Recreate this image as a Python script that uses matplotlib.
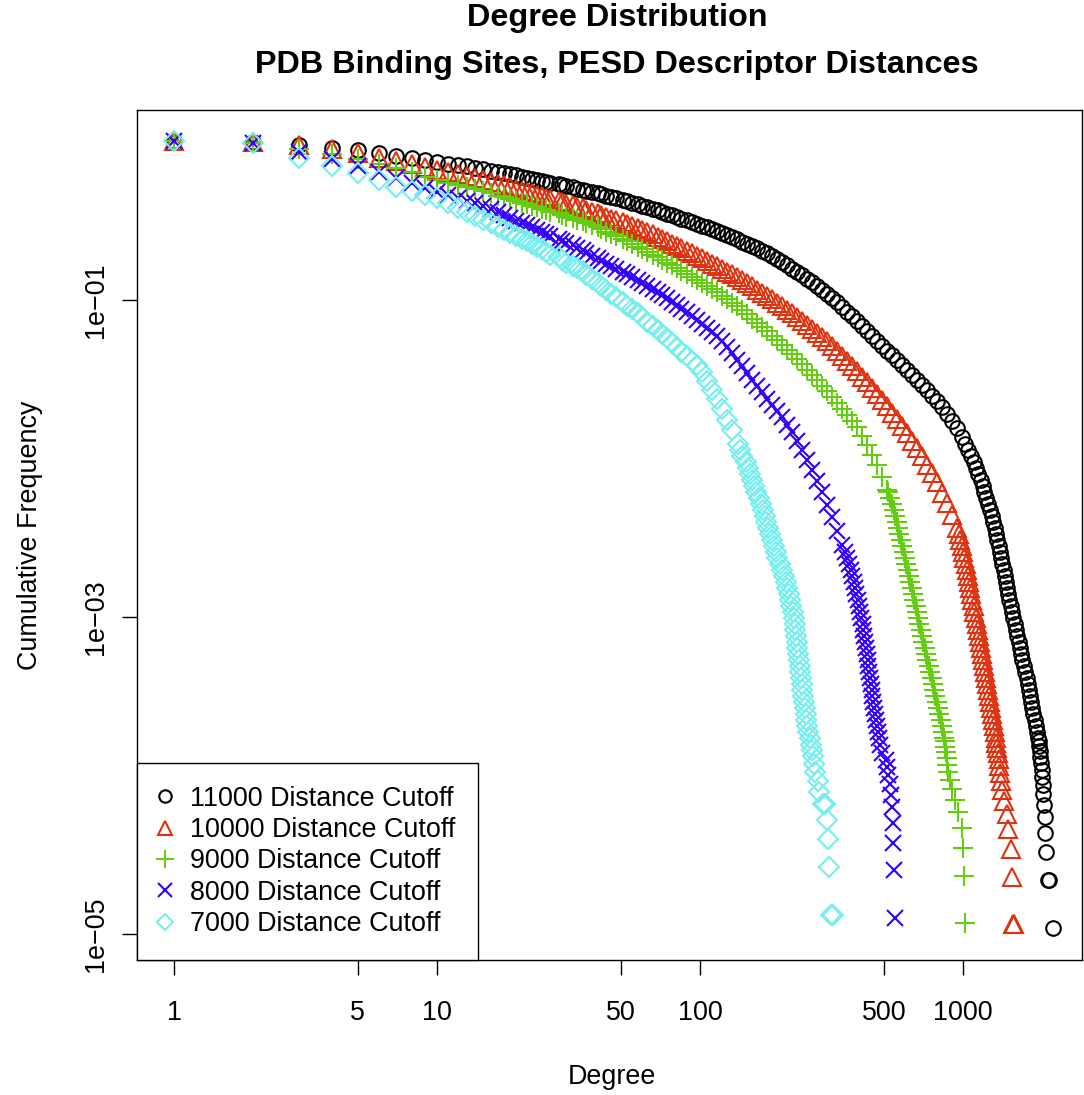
import matplotlib
matplotlib.use("Agg")
import matplotlib.pyplot as plt

plt.rcParams['font.family'] = ['Liberation Sans', 'DejaVu Sans']

# degrees shared by the upper part of every curve
head_deg = [1, 2, 3, 4, 5, 6, 7, 8, 9]
grid_deg = [10, 11, 12, 13, 14, 15, 16, 17, 18, 19, 20,
            21, 22, 23, 24, 25, 26, 27, 29, 30, 31,
            33, 34, 36, 37, 39, 41, 42, 44, 46, 48,
            51, 53, 55, 58, 60, 63, 66, 69, 72, 75,
            78, 82, 85, 89, 93, 97, 102, 106, 111, 116,
            121, 127, 132, 138, 144, 151, 158, 165, 172, 180,
            188, 196, 205, 214, 224, 234, 244, 255, 267, 279,
            291, 304, 318, 332, 347, 362, 378, 395, 413, 431,
            451, 471, 492, 514, 537, 561, 586, 612, 640, 668,
            698, 729, 762, 796, 832, 869, 908, 949, 991]

# cumulative frequency read along head_deg + grid_deg
black_freq = [1.0, 0.99, 0.95, 0.91, 0.88, 0.84, 0.81, 0.785, 0.76,
              0.742, 0.725, 0.711, 0.696, 0.685, 0.671, 0.656, 0.644, 0.633, 0.622, 0.611,
              0.597, 0.589, 0.580, 0.572, 0.564, 0.556, 0.548, 0.540, 0.532, 0.522,
              0.513, 0.505, 0.496, 0.488, 0.480, 0.4735, 0.464, 0.455, 0.446, 0.437,
              0.428, 0.420, 0.412, 0.404, 0.394, 0.385, 0.376, 0.367, 0.359, 0.350,
              0.342, 0.334, 0.3254, 0.3175, 0.3093, 0.3018, 0.294, 0.2868, 0.2795, 0.2726,
              0.2644, 0.2561, 0.2485, 0.2409, 0.2331, 0.2257, 0.2192, 0.2129, 0.2044, 0.1966,
              0.1888, 0.1816, 0.1730, 0.1652, 0.1575, 0.1503, 0.1429, 0.1358, 0.1290, 0.1226,
              0.1157, 0.1092, 0.1030, 0.0971, 0.0906, 0.0846, 0.0789, 0.0737, 0.0686, 0.0637,
              0.0593, 0.0551, 0.0514, 0.0480, 0.0448, 0.0418, 0.0389, 0.0362, 0.0337, 0.0313,
              0.0290, 0.0269, 0.0249, 0.0231, 0.0210, 0.0191, 0.0172, 0.0156, 0.0137]
red_freq = [1.0, 0.99, 0.95, 0.90, 0.84, 0.79, 0.75, 0.72, 0.69,
            0.661, 0.640, 0.622, 0.606, 0.591, 0.574, 0.556, 0.542, 0.528, 0.515, 0.503,
            0.490, 0.480, 0.470, 0.460, 0.450, 0.440, 0.431, 0.4216, 0.4124, 0.4036,
            0.3948, 0.3863, 0.3780, 0.3698, 0.3605, 0.3515, 0.3427, 0.3341, 0.3256, 0.3175,
            0.3088, 0.3006, 0.2923, 0.2842, 0.2762, 0.2687, 0.2599, 0.2509, 0.2427, 0.2347,
            0.2267, 0.2192, 0.2114, 0.2038, 0.1966, 0.1896, 0.1829, 0.1763, 0.1696, 0.1633,
            0.1570, 0.1509, 0.1454, 0.1398, 0.1334, 0.1275, 0.1217, 0.1162, 0.1111, 0.1061,
            0.1008, 0.0957, 0.0910, 0.0865, 0.0822, 0.0781, 0.0737, 0.0696, 0.0656, 0.0619,
            0.0584, 0.0551, 0.0513, 0.0477, 0.0443, 0.0412, 0.0383, 0.0357, 0.0328, 0.0302,
            0.0277, 0.0255, 0.0233, 0.0213, 0.0194, 0.0178, 0.0160, 0.0144, 0.0129, 0.0117,
            0.0103, 0.00910, 0.00805, 0.00711, 0.00610, 0.00524, 0.00441, 0.00366]
green_freq = [1.0, 0.985, 0.90, 0.83, 0.77, 0.72, 0.68, 0.64, 0.60,
              0.572, 0.551, 0.532, 0.514, 0.499, 0.484, 0.470, 0.456, 0.445, 0.434, 0.422,
              0.4118, 0.4036, 0.3942, 0.3852, 0.3763, 0.3682, 0.3597, 0.3515, 0.3434, 0.3355,
              0.3278, 0.3208, 0.3134, 0.3062, 0.2965, 0.2876, 0.2786, 0.2699, 0.2617, 0.2535,
              0.2438, 0.2347, 0.2257, 0.2170, 0.2090, 0.2009, 0.1932, 0.1861, 0.1789, 0.1720,
              0.1657, 0.1593, 0.1525, 0.1460, 0.1398, 0.1338, 0.1281, 0.1226, 0.1169, 0.1119,
              0.1061, 0.1011, 0.0962, 0.0917, 0.0862, 0.0813, 0.0764, 0.0719, 0.0678, 0.0637,
              0.0595, 0.0557, 0.0520, 0.0486, 0.0455, 0.0425, 0.0393, 0.0364, 0.0338, 0.0313,
              0.0288, 0.0265, 0.0243, 0.0224, 0.0205, 0.0188, 0.0172, 0.0158, 0.0139, 0.0122,
              0.0105, 0.0091, 0.00759, 0.00633]
blue_freq = [1.0, 0.98, 0.86, 0.78, 0.70, 0.64, 0.59, 0.55, 0.51,
             0.480, 0.460, 0.440, 0.422, 0.407, 0.391, 0.373, 0.357, 0.345, 0.329, 0.317,
             0.3053, 0.2957, 0.2868, 0.2778, 0.2691, 0.2602, 0.2520, 0.2438, 0.2361, 0.2283,
             0.2211, 0.2139, 0.2065, 0.1983, 0.1907, 0.1831, 0.1761, 0.1696, 0.1633, 0.1570,
             0.1509, 0.1451, 0.1394, 0.1334, 0.1279, 0.1224, 0.1172, 0.1122, 0.1075, 0.1030,
             0.0977, 0.0926, 0.0879, 0.0834, 0.0790, 0.0750, 0.0710, 0.0668, 0.0628, 0.0593,
             0.0548, 0.0507, 0.0465, 0.0421, 0.0382, 0.0346, 0.0315, 0.0286, 0.0261, 0.0238,
             0.0218, 0.0199, 0.0183, 0.0162, 0.0147, 0.0129, 0.0113, 0.00979, 0.00847, 0.00721,
             0.00615, 0.00512, 0.00427, 0.00348, 0.00285]
cyan_freq = [1.0, 0.98, 0.79, 0.70, 0.63, 0.57, 0.52, 0.49, 0.46,
             0.440, 0.409, 0.382, 0.359, 0.339, 0.321, 0.304, 0.290, 0.276, 0.264, 0.253,
             0.2427, 0.2341, 0.2254, 0.2167, 0.2083, 0.2003, 0.1926, 0.1858, 0.1781, 0.1713,
             0.1647, 0.1584, 0.1514, 0.1433, 0.1358, 0.1285, 0.1217, 0.1152, 0.1090, 0.1044,
             0.0976, 0.0923, 0.0875, 0.0824, 0.0776, 0.0730, 0.0688, 0.0647, 0.0609, 0.0572,
             0.0536, 0.0502, 0.0471, 0.0441, 0.0414, 0.0387, 0.0353, 0.0308, 0.0270, 0.0236,
             0.0205, 0.0176, 0.0152]

# frequency levels at which the degree of the steep sections was read
steep_levels = [0.01235, 0.01132, 0.01038, 0.00951, 0.00871, 0.00799, 0.00732, 0.00671,
                0.00615, 0.00564, 0.00516, 0.00474, 0.00434, 0.00398, 0.00365, 0.00334,
                0.00306, 0.00281, 0.00257, 0.00236, 0.00216, 0.00198, 0.00181, 0.00166,
                0.00152, 0.00140, 0.00128, 0.00117, 0.00108, 0.000986, 0.000903, 0.000828,
                0.000759, 0.000696, 0.000638, 0.000584, 0.000535, 0.000491, 0.000450,
                0.000413, 0.000377, 0.000346, 0.000317, 0.000291, 0.000267, 0.000244,
                0.000224, 0.000205, 0.000188, 0.000172]

# degrees on the steep sections (each ends at the last level above)
black_steep_deg = [1018, 1044, 1072, 1098, 1122, 1144, 1167, 1188, 1207, 1228,
                   1247, 1267, 1284, 1301, 1318, 1334, 1350, 1366, 1382, 1396,
                   1412, 1426, 1441, 1455, 1468, 1484, 1499, 1516, 1534, 1552,
                   1570, 1588, 1607, 1626, 1645, 1663, 1680, 1701, 1723, 1744,
                   1765, 1783, 1801, 1818, 1836, 1854, 1872, 1891, 1909, 1929]
red_steep_deg = [963, 977, 989, 1000, 1011, 1023, 1033, 1044, 1054, 1064,
                 1075, 1086, 1097, 1106, 1116, 1126, 1136, 1147, 1158, 1169,
                 1180, 1191, 1202, 1213, 1224, 1235, 1247, 1257, 1268, 1279,
                 1290, 1301, 1313, 1324, 1330]
green_steep_deg = [517, 528, 537, 545, 553, 560, 566, 573, 581, 588,
                   595, 602, 609, 616, 624, 631, 638, 645, 653, 660,
                   668, 675, 682, 690, 698, 707, 715, 724, 732, 742,
                   750, 760, 769, 778, 786, 795, 803, 812, 822, 831,
                   841, 848]
blue_steep_deg = [355, 362, 369, 374, 379, 384, 388, 393, 398, 403,
                  407, 411, 415, 418, 421, 424, 426, 430, 434, 437,
                  441, 444, 446, 449, 451, 454, 457, 461, 465, 470,
                  474, 478]
cyan_steep_deg = [140, 142, 145, 149, 152, 155, 158, 161, 164, 167,
                  170, 173, 176, 179, 182, 185, 188, 192, 194, 197,
                  201, 205, 209, 212, 215, 218, 220, 222, 225, 227,
                  229, 230, 232, 233, 234, 236, 238, 240, 241, 243,
                  244, 245, 247, 248, 250, 252, 254, 255, 258, 261]

# discrete tail (a few nodes per degree)
black_tail_deg = [1940, 1950, 1960, 1970, 1980, 1990, 2000, 2007, 2020, 2035, 2045, 2055,
                  2070, 2105, 2130, 2190]
black_tail_freq = [1.64e-4, 1.53e-4, 1.42e-4, 1.31e-4, 1.20e-4, 1.09e-4, 9.81e-5, 8.72e-5,
                   7.63e-5, 6.54e-5, 5.45e-5, 4.36e-5, 3.27e-5, 2.18e-5, 2.18e-5, 1.09e-5]
red_tail_deg = [1340, 1348, 1360, 1365, 1375, 1384, 1396, 1409, 1434, 1470, 1485, 1520,
                1530, 1545, 1560]
red_tail_freq = [1.61e-4, 1.495e-4, 1.38e-4, 1.265e-4, 1.15e-4, 1.035e-4, 9.2e-5, 8.05e-5,
                 6.9e-5, 5.75e-5, 4.6e-5, 3.45e-5, 2.3e-5, 1.15e-5, 1.15e-5]
green_tail_deg = [851, 854, 862, 866, 870, 877, 892, 908, 932, 957, 991, 1000, 1009, 1018]
green_tail_freq = [1.64e-4, 1.52e-4, 1.404e-4, 1.287e-4, 1.17e-4, 1.053e-4, 9.36e-5,
                   8.19e-5, 7.02e-5, 5.85e-5, 4.68e-5, 3.51e-5, 2.34e-5, 1.17e-5]
blue_tail_deg = [484, 492, 508, 514, 519, 528, 534, 538, 541, 544, 547, 551]
blue_tail_freq = [1.56e-4, 1.39e-4, 1.26e-4, 1.134e-4, 1.008e-4, 8.82e-5, 7.56e-5, 6.3e-5,
                  5.04e-5, 3.78e-5, 2.52e-5, 1.26e-5]
cyan_tail_deg = [264, 266, 269, 272, 274, 281, 284, 294, 298, 304, 307, 309, 315, 321]
cyan_tail_freq = [1.56e-4, 1.45e-4, 1.32e-4, 1.188e-4, 1.056e-4, 9.24e-5, 7.92e-5, 6.6e-5,
                  6.6e-5, 5.28e-5, 3.96e-5, 2.64e-5, 1.32e-5, 1.32e-5]

labels = ["11000 Distance Cutoff", "10000 Distance Cutoff", "9000 Distance Cutoff",
          "8000 Distance Cutoff", "7000 Distance Cutoff"]

series = [
    (black_freq, black_steep_deg, black_tail_deg, black_tail_freq, "o", "#000000", 10.5),
    (red_freq, red_steep_deg, red_tail_deg, red_tail_freq, "^", "#DD3311", 12.5),
    (green_freq, green_steep_deg, green_tail_deg, green_tail_freq, "+", "#66CC11", 15),
    (blue_freq, blue_steep_deg, blue_tail_deg, blue_tail_freq, "x", "#3300FF", 11.5),
    (cyan_freq, cyan_steep_deg, cyan_tail_deg, cyan_tail_freq, "D", "#77EEEE", 10),
]

W, H = 1084, 1095
fig = plt.figure(figsize=(W / 100, H / 100), dpi=100)
ax = fig.add_axes([137 / W, 1 - 960 / H, 945 / W, 850 / H])

for (freq, sdeg, tdeg, tfreq, mk, col, ms), lab in zip(series, labels):
    deg = (head_deg + grid_deg)[:len(freq)] + sdeg + tdeg
    vals = freq + steep_levels[len(steep_levels) - len(sdeg):] + tfreq
    ax.plot(deg, vals, linestyle="none", marker=mk, ms=ms,
            mfc="none", mec=col, mew=1.5, label=lab)

ax.set_xscale("log")
ax.set_yscale("log")
ax.set_xlim(0.7232, 2835)
ax.set_ylim(6.86e-6, 1.58)
ax.minorticks_off()
ax.set_xticks([1, 5, 10, 50, 100, 500, 1000])
ax.set_xticklabels(["1", "5", "10", "50", "100", "500", "1000"])
ax.set_yticks([1e-1, 1e-3, 1e-5])
ax.set_yticklabels(["1e\u221201", "1e\u221203", "1e\u221205"], rotation=90, va="center")
ax.tick_params(direction="out", length=11, width=1, labelsize=19.4, colors="black")
ax.tick_params(axis="x", pad=18)
ax.tick_params(axis="y", pad=9)
for sp in ax.spines.values():
    sp.set_linewidth(1.0)

leg = ax.legend(loc="lower left", bbox_to_anchor=(0, 0), borderaxespad=0,
                fancybox=False, edgecolor="black", framealpha=1, fontsize=19.4,
                handlelength=0.4, handletextpad=0.7, borderpad=0.85,
                labelspacing=0.2, numpoints=1, markerscale=0.85)
leg.get_frame().set_linewidth(1.0)

fig.text(617 / W, 1 - 18 / H, "Degree Distribution", ha="center", va="center",
         fontsize=23.3, fontweight="bold")
fig.text(617 / W, 1 - 65 / H, "PDB Binding Sites, PESD Descriptor Distances",
         ha="center", va="center", fontsize=23.3, fontweight="bold")
fig.text(612 / W, 1 - 1077 / H, "Degree", ha="center", va="center", fontsize=19.4)
fig.text(30 / W, 1 - 535 / H, "Cumulative Frequency", ha="center", va="center",
         rotation=90, fontsize=19.4)

fig.savefig("out.png", dpi=100)
